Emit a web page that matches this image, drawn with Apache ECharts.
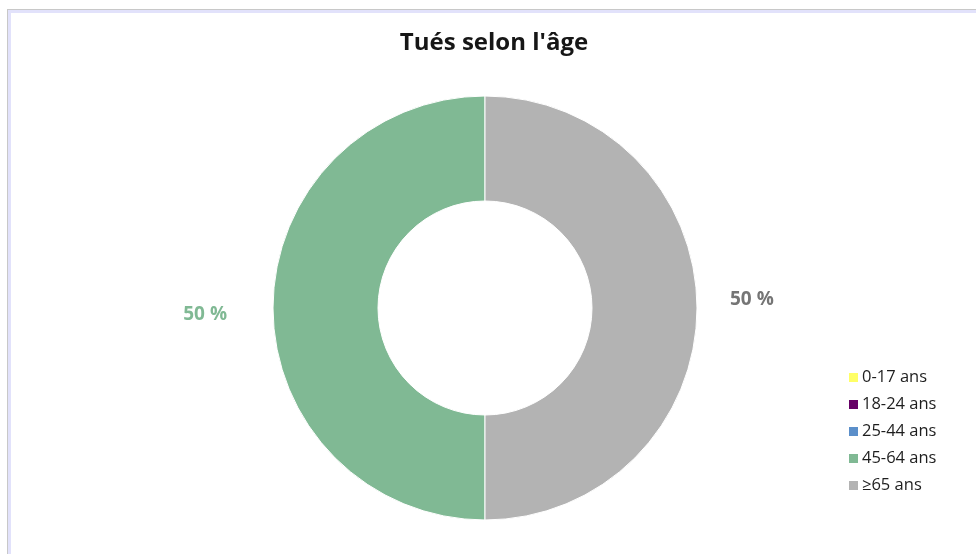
<!DOCTYPE html>
<html>
<head>
<meta charset="utf-8">
<script src="https://cdn.jsdelivr.net/npm/echarts@6/dist/echarts.min.js"></script>
<style>
html,body{margin:0;padding:0;background:#fff;}
#frame{position:absolute;left:7px;top:9px;width:1000px;height:600px;border-left:1px solid #c8c8c8;border-top:1px solid #c8c8c8;}
#frame2{position:absolute;left:8px;top:10px;width:1000px;height:600px;border-left:3px solid #e2e2fb;border-top:3px solid #e2e2fb;}
#chart{position:absolute;left:0;top:0;width:976px;height:554px;}
</style>
</head>
<body>
<div id="frame"></div>
<div id="frame2"></div>
<div id="chart"></div>
<script>
var title = "Tués selon l'âge";
var categories = ["0-17 ans", "18-24 ans", "25-44 ans", "45-64 ans", "≥65 ans"];
var values = [0, 0, 0, 50, 50];
var colors = ["#ffff66", "#660066", "#5b8fca", "#80b994", "#b3b3b3"];
var labelColors = ["#e6e600", "#660066", "#5b8fca", "#80b994", "#757575"];

var labelTweaks = {3: {offset: [0, 7], len2: 26}, 4: {offset: [0, -8], len2: 13}};

var FONT = '"Open Sans", Lato, sans-serif';
var chart = echarts.init(document.getElementById('chart'));
var data = categories.map(function (c, i) {
  var t = labelTweaks[i] || {offset: [0, 0], len2: 15};
  return {
    name: c,
    value: values[i],
    itemStyle: {color: colors[i]},
    label: {show: values[i] > 0, color: labelColors[i], offset: t.offset},
    labelLine: {length: 15, length2: t.len2, show: false}
  };
});
chart.setOption({
  animation: false,
  title: {
    text: title, left: 489, top: 26, textAlign: 'center',
    textStyle: {fontFamily: FONT, fontSize: 24, fontWeight: 'bold', color: '#161616'}
  },
  legend: {
    orient: 'vertical', left: 842, top: 364, itemWidth: 11, itemHeight: 11, itemGap: 10,
    icon: 'rect',
    textStyle: {fontFamily: FONT, fontSize: 16.5, color: '#1e1e1e', padding: [0, 0, 0, -2]},
    data: categories
  },
  series: [{
    type: 'pie',
    center: [485, 308],
    radius: [107, 212],
    clockwise: false,
    startAngle: 90,
    itemStyle: {borderColor: '#ffffff', borderWidth: 1},
    label: {
      position: 'outside',
      fontFamily: FONT,
      fontSize: 19, fontWeight: 'bold',
      formatter: function (p) { return Math.round(p.percent) + ' %'; }
    },
    emphasis: {disabled: true},
    data: data
  }]
});
</script>
</body>
</html>
